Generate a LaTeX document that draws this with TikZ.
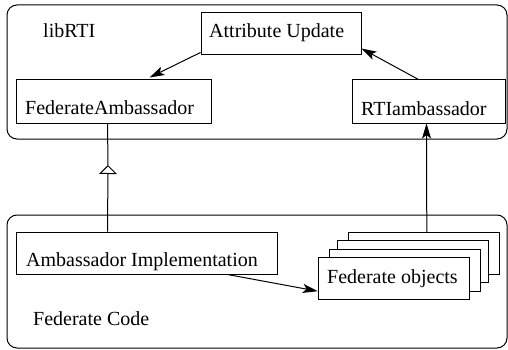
\documentclass[tikz,border=0pt]{standalone}
\usepackage{fontspec}
\setmainfont{Liberation Serif}
\usetikzlibrary{arrows.meta,calc}
\begin{document}
\begin{tikzpicture}[x=1pt,y=-1pt,
  box/.style={draw,line width=1pt,inner sep=0pt,fill=white},
  group/.style={draw,line width=1pt,rounded corners=10pt,inner sep=0pt},
  lbl/.style={anchor=base west,inner sep=0pt,font=\fontsize{20}{24}\selectfont},
  arr/.style={line width=1pt,-{Stealth[length=15pt,width=9pt,inset=3.5pt]}},
  inh/.style={line width=1pt,-{Triangle[open,length=9pt,width=18pt,fill=white,line width=1pt]}},
]
\useasboundingbox (0,0) rectangle (508,350);
% groups
\node[group,minimum width=500pt,minimum height=134pt] (lib) at (257,72) {};
\node[group,minimum width=500pt,minimum height=133pt] (fed) at (257,281.5) {};
% boxes in libRTI
\node[box,minimum width=160pt,minimum height=42pt] (au) at (281,34) {};
\node[box,minimum width=195pt,minimum height=43pt] (fa) at (113.5,101.5) {};
\node[box,minimum width=153pt,minimum height=43pt] (rti) at (428.5,101.5) {};
% boxes in federate code
\node[box,minimum width=261pt,minimum height=42pt] (ai) at (146.5,253) {};
\node[box,minimum width=151pt,minimum height=42pt] (fo4) at (423.8,253.3) {};
\node[box,minimum width=151pt,minimum height=42pt] (fo3) at (413.2,261.7) {};
\node[box,minimum width=151pt,minimum height=42pt] (fo2) at (404.5,270.3) {};
\node[box,minimum width=151pt,minimum height=42pt] (fo) at (393.8,278.7) {};
% labels
\node[lbl] (l1) at (43,38) {libRTI};
\node[lbl] (t1) at (209,38) {Attribute Update};
\node[lbl] (t2) at (25,114) {FederateAmbassador};
\node[lbl] (t3) at (361,115) {RTIambassador};
\node[lbl] (t4) at (26,266) {Ambassador Implementation};
\node[lbl] (t5) at (327,283) {Federate objects};
\node[lbl] (l2) at (33,325) {Federate Code};
% connectors
\draw[arr] ($(au.south west)+(0,-3)$) -- ($(fa.north west)+(134,-2)$);
\draw[arr] ($(rti.north west)+(67,0)$) -- ($(au.south east)+(0,-7)$);
\coordinate (tip) at (108,165);
\draw[line width=1pt] ($(fa.south west)+(92,0)$) -- (tip);
\draw[inh] ($(ai.north west)+(92,0)$) -- (tip);
\draw[arr] ($(fo4.north west)+(79,0)$) -- ($(rti.south west)+(75,0)$);
\draw[arr] ($(ai.south east)+(-50,0)$) -- ($(fo.south west)+(0,-9)$);
\end{tikzpicture}
\end{document}
